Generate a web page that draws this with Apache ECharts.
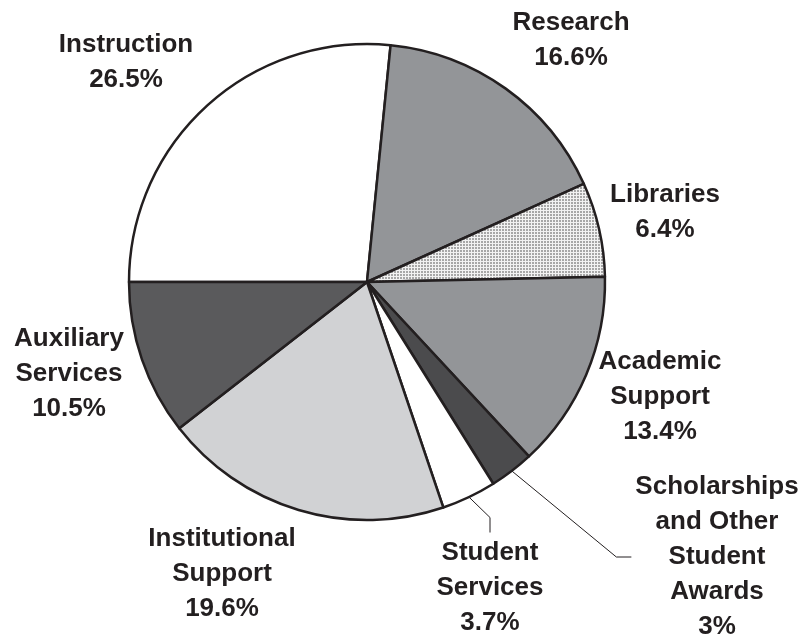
<!DOCTYPE html>
<html>
<head>
<meta charset="utf-8">
<script src="https://cdn.jsdelivr.net/npm/echarts@6/dist/echarts.min.js"></script>
<style>
    html, body { margin: 0; padding: 0; background: #fff; }
    #chart { width: 804px; height: 638px; }
</style>
</head>
<body>
<div id="chart"></div>
<script>
    // 数据
    var names = ['Instruction', 'Research', 'Libraries', 'Academic\nSupport',
        'Scholarships\nand Other\nStudent\nAwards', 'Student\nServices',
        'Institutional\nSupport', 'Auxiliary\nServices'];
    var shares = [26.5, 16.6, 6.4, 13.4, 3, 3.7, 19.6, 10.5];

    // label anchors (centre of each text block)
    var labelPos = [[126, 62], [571, 40], [665, 212], [660, 397],
        [717, 557], [490, 588], [222, 574], [69, 374]];

    var ink = '#231f20';
    var LINE_H = 35;

    // dotted fill for Libraries
    function dots() {
        var c = document.createElement('canvas');
        c.width = 3; c.height = 3;
        var g = c.getContext('2d');
        g.fillStyle = '#f2f2f2';
        g.fillRect(0, 0, 3, 3);
        g.fillStyle = '#a7a7a7';
        g.fillRect(1, 1, 2, 2);
        return c;
    }

    var fills = ['#ffffff', '#939598', {image: dots(), repeat: 'repeat'}, '#939598',
        '#4b4b4d', '#ffffff', '#d1d2d4', '#5a5a5c'];

    var myChart = echarts.init(document.getElementById('chart'));

    var data = names.map(function (n, i) {
        var item = {name: n, value: shares[i], itemStyle: {color: fills[i]}};
        if (i === 4 || i === 5) {
            item.labelLine = {show: true, lineStyle: {color: ink, width: 1}};
        }
        return item;
    });

    var option = {
        animation: false,
        series: [{
            type: 'pie',
            center: [367, 282],
            radius: 238,
            startAngle: 180,
            clockwise: true,
            avoidLabelOverlap: false,
            emphasis: {disabled: true},
            itemStyle: {borderColor: ink, borderWidth: 2.5},
            label: {
                show: true,
                position: 'outside',
                formatter: '{b}\n{c}%',
                fontFamily: 'Liberation Sans, Arial, sans-serif',
                fontWeight: 'bold',
                fontSize: 26,
                lineHeight: LINE_H,
                color: ink,
                align: 'center'
            },
            labelLine: {show: false},
            labelLayout: function (params) {
                var i = params.dataIndex;
                var p = labelPos[i];
                var lines = names[i].split('\n').length + 1;
                var h = lines * LINE_H;
                var out = {x: p[0], y: p[1], align: 'center', verticalAlign: 'middle'};
                var start = params.labelLinePoints && params.labelLinePoints[0];
                if (i === 4 && start) {
                    var left = p[0] - params.labelRect.width / 2;
                    out.labelLinePoints = [start, [left - 19, p[1]], [left - 4, p[1]]];
                } else if (i === 5 && start) {
                    var top = p[1] - h / 2;
                    out.labelLinePoints = [start, [p[0], top - 18], [p[0], top - 3]];
                }
                return out;
            },
            data: data
        }]
    };
    myChart.setOption(option);
</script>
</body>
</html>
